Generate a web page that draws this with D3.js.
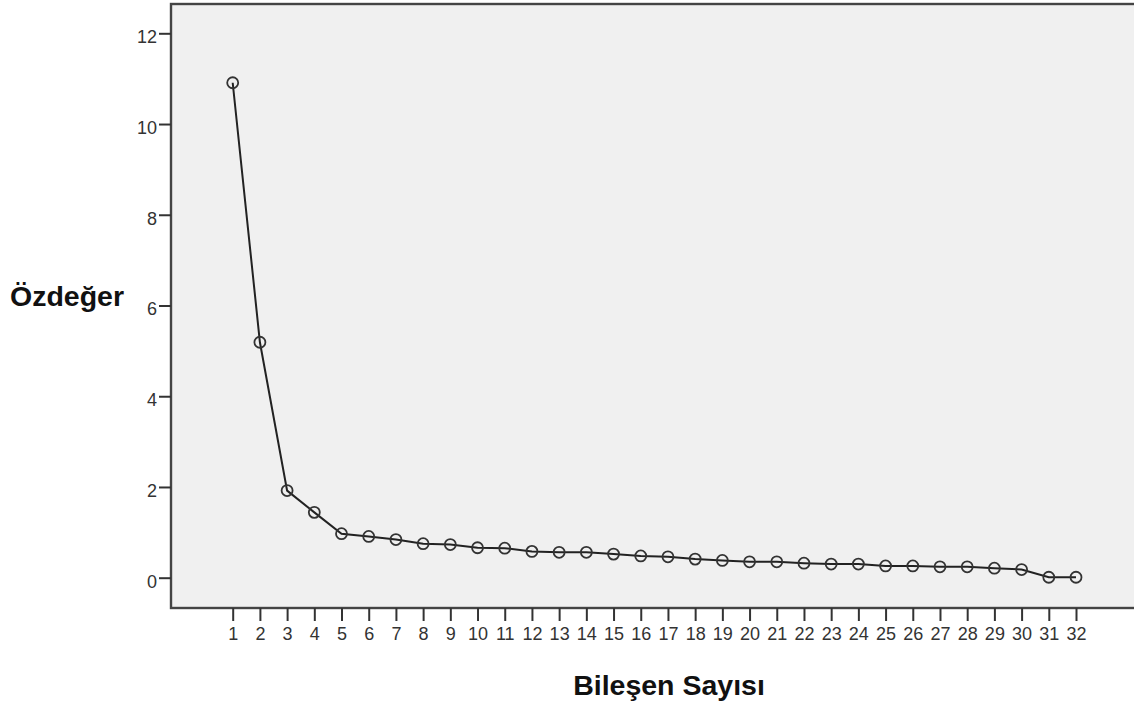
<!DOCTYPE html>
<html lang="tr">
<head>
<meta charset="UTF-8">
<title>Özdeğer grafiği</title>
<script src="https://d3js.org/d3.v7.min.js"></script>
<style>
  html, body { margin: 0; padding: 0; background: #fff; }
  svg { display: block; font-family: "Liberation Sans", Arial, sans-serif; }
  .tick text { fill: #333; font-size: 18px; }
  .axis-title { font-weight: bold; font-size: 28.5px; fill: #111; }
</style>
</head>
<body>
<svg id="chart" width="1134" height="704"></svg>
<script>
// component numbers and eigenvalues
const components = d3.range(1, 33);
const eigenvalues = [10.91, 5.19, 1.92, 1.44, 0.97, 0.91, 0.84, 0.75, 0.73, 0.66,
  0.65, 0.58, 0.56, 0.56, 0.52, 0.48, 0.46, 0.41, 0.38, 0.35,
  0.35, 0.32, 0.30, 0.30, 0.26, 0.26, 0.24, 0.24, 0.21, 0.18,
  0.01, 0.01];
const yTicks = [0, 2, 4, 6, 8, 10, 12];
const xLabel = "Bileşen Sayısı";
const yLabel = "Özdeğer";

const frame = { left: 171, top: 4, bottom: 608, right: 1140 };

const svg = d3.select("#chart");

const x = d3.scaleLinear().domain([1, 32]).range([232.7, 1076]);
const y = d3.scaleLinear().domain([0, 12]).range([577.7, 33.3]);

// plot background
svg.append("rect")
  .attr("x", frame.left).attr("y", frame.top)
  .attr("width", frame.right - frame.left)
  .attr("height", frame.bottom - frame.top)
  .attr("fill", "#f0f0f0")
  .attr("stroke", "#444")
  .attr("stroke-width", 2.4);

// y axis
const yAxis = svg.append("g")
  .attr("transform", `translate(${frame.left},0)`)
  .call(d3.axisLeft(y).tickValues(yTicks).tickSize(12).tickPadding(2).tickFormat(d3.format("d")));
yAxis.select(".domain").remove();
yAxis.selectAll(".tick line").attr("stroke", "#333").attr("stroke-width", 2);
yAxis.selectAll(".tick text").attr("dy", "0.52em");

// x axis
const xAxis = svg.append("g")
  .attr("transform", `translate(0,${frame.bottom})`)
  .call(d3.axisBottom(x).tickValues(components).tickSize(13).tickPadding(6).tickFormat(d3.format("d")));
xAxis.select(".domain").remove();
xAxis.selectAll(".tick line").attr("stroke", "#333").attr("stroke-width", 2);

// line
svg.append("path")
  .datum(eigenvalues)
  .attr("fill", "none")
  .attr("stroke", "#222")
  .attr("stroke-width", 2)
  .attr("d", d3.line().x((d, i) => x(components[i])).y(d => y(d)));

// markers
svg.selectAll(".pt")
  .data(eigenvalues)
  .join("circle")
  .attr("class", "pt")
  .attr("cx", (d, i) => x(components[i]))
  .attr("cy", d => y(d))
  .attr("r", 5.5)
  .attr("fill", "none")
  .attr("stroke", "#333")
  .attr("stroke-width", 1.8);

// axis titles
svg.append("text")
  .attr("class", "axis-title")
  .attr("x", 10).attr("y", 306)
  .text(yLabel);

svg.append("text")
  .attr("class", "axis-title")
  .attr("x", 669).attr("y", 695)
  .attr("text-anchor", "middle")
  .text(xLabel);
</script>
</body>
</html>
